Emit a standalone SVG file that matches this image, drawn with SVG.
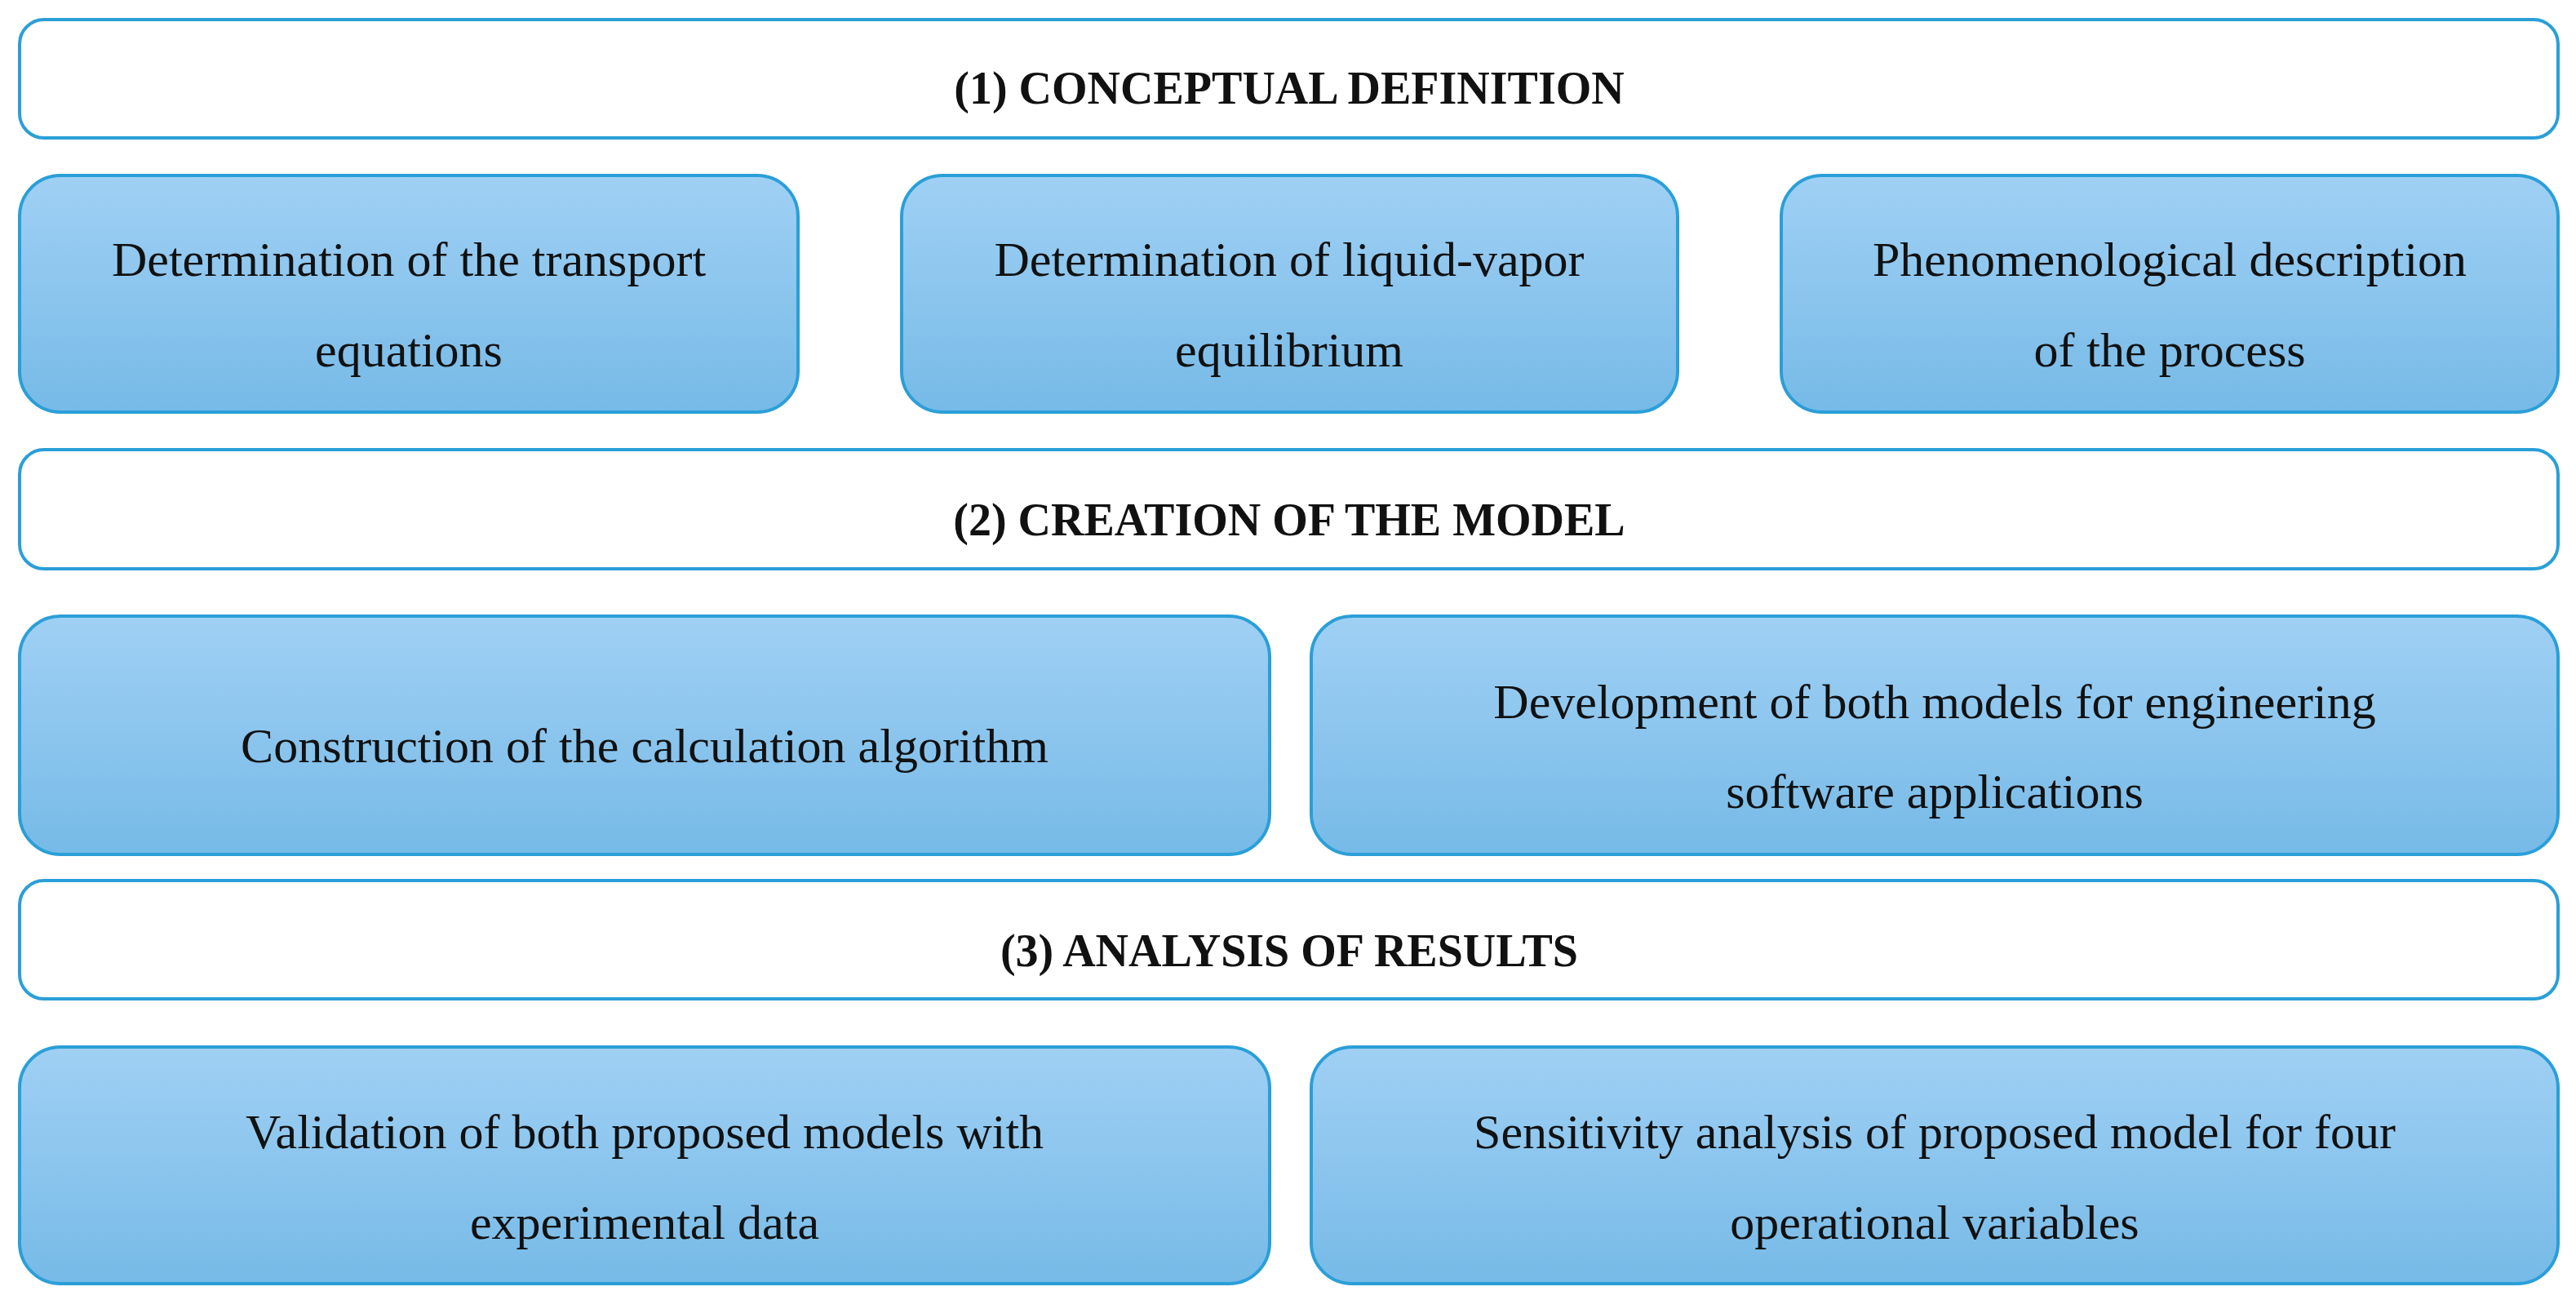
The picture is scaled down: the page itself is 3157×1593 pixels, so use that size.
<svg xmlns="http://www.w3.org/2000/svg" width="3157" height="1593" viewBox="0 0 3157 1593">
<style>
.h{fill:#fff;stroke:#2a9fd8;stroke-width:4}
.b{fill:url(#g);stroke:#2a9fd8;stroke-width:4}
text{font-family:"Liberation Serif",serif;fill:#111;text-anchor:middle}
.t{font-size:60px}
.ht{font-size:56px;font-weight:bold}
</style>
<defs><linearGradient id="g" x1="0" y1="0" x2="0" y2="1"><stop offset="0" stop-color="#a0d0f4"/><stop offset="1" stop-color="#76bae7"/></linearGradient></defs>
<rect width="3157" height="1593" fill="#fff"/>
<g id="h1"><rect class="h" x="24" y="24" width="3111" height="145" rx="30"/><text class="ht" x="1580" y="127">(1) CONCEPTUAL DEFINITION</text></g>
<g id="n1"><rect class="b" x="24" y="215" width="954" height="290" rx="50"/><text class="t" x="501" y="338">Determination of the transport</text><text class="t" x="501" y="449">equations</text></g>
<g id="n2"><rect class="b" x="1105" y="215" width="951" height="290" rx="50"/><text class="t" x="1580" y="338">Determination of liquid-vapor</text><text class="t" x="1580" y="449">equilibrium</text></g>
<g id="n3"><rect class="b" x="2183" y="215" width="952" height="290" rx="50"/><text class="t" x="2659" y="338">Phenomenological description</text><text class="t" x="2659" y="449">of the process</text></g>
<g id="h2"><rect class="h" x="24" y="551" width="3111" height="146" rx="30"/><text class="ht" x="1580" y="656">(2) CREATION OF THE MODEL</text></g>
<g id="n4"><rect class="b" x="24" y="755" width="1532" height="292" rx="50"/><text class="t" x="790" y="934">Construction of the calculation algorithm</text></g>
<g id="n5"><rect class="b" x="1607" y="755" width="1528" height="292" rx="50"/><text class="t" x="2371" y="880">Development of both models for engineering</text><text class="t" x="2371" y="990">software applications</text></g>
<g id="h3"><rect class="h" x="24" y="1079" width="3111" height="145" rx="30"/><text class="ht" x="1580" y="1184">(3) ANALYSIS OF RESULTS</text></g>
<g id="n6"><rect class="b" x="24" y="1283" width="1532" height="290" rx="50"/><text class="t" x="790" y="1407">Validation of both proposed models with</text><text class="t" x="790" y="1518">experimental data</text></g>
<g id="n7"><rect class="b" x="1607" y="1283" width="1528" height="290" rx="50"/><text class="t" x="2371" y="1407">Sensitivity analysis of proposed model for four</text><text class="t" x="2371" y="1518">operational variables</text></g>
<g id="connectors"/>
</svg>
